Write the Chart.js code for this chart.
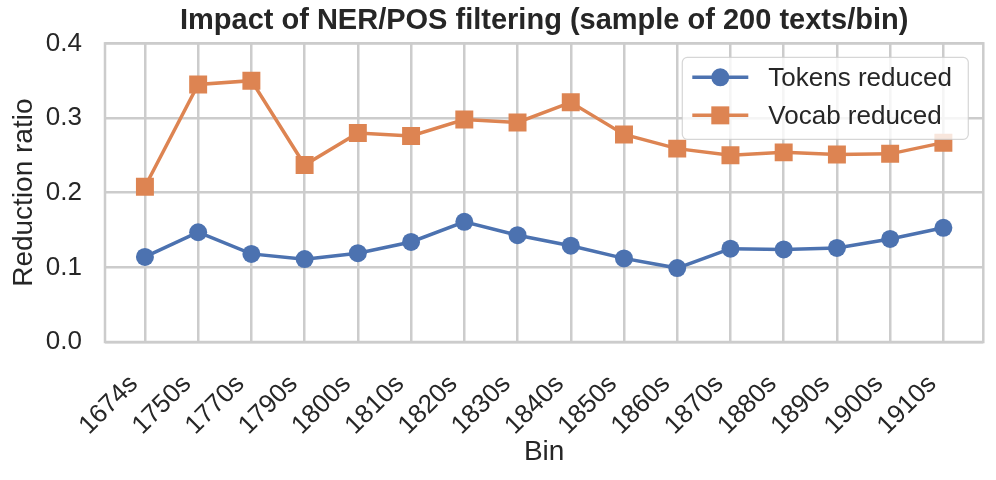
<!DOCTYPE html>
<html>
<head>
<meta charset="utf-8">
<script src="https://cdn.jsdelivr.net/npm/chart.js@4/dist/chart.umd.min.js"></script>
<style>
  html, body { margin: 0; padding: 0; background: #fff; }
  #wrap { width: 996px; height: 480px; }
</style>
</head>
<body>
<div id="wrap"><canvas id="reduction-chart" width="996" height="480"></canvas></div>
<script>
var bins = ['1674s','1750s','1770s','1790s','1800s','1810s','1820s','1830s','1840s','1850s','1860s','1870s','1880s','1890s','1900s','1910s'];
var tokensReduced = [0.114,0.147,0.118,0.111,0.119,0.134,0.161,0.143,0.129,0.112,0.099,0.125,0.124,0.126,0.138,0.153];
var vocabReduced = [0.208,0.345,0.350,0.237,0.280,0.276,0.298,0.294,0.321,0.278,0.259,0.250,0.254,0.251,0.252,0.267];
var yTicks = [0.0, 0.1, 0.2, 0.3, 0.4];

var FONT = "'Liberation Sans', Arial, Helvetica, sans-serif";
var BLUE = '#4c72b0';
var ORANGE = '#dd8452';
var GRID = '#cccccc';

function toPoints(values) {
  return values.map(function (v, i) { return { x: i, y: v }; });
}

// frame round the plot area, like the seaborn whitegrid spines
var framePlugin = {
  id: 'frame',
  beforeDatasetsDraw: function (chart) {
    var a = chart.chartArea, ctx = chart.ctx;
    ctx.save();
    ctx.strokeStyle = GRID;
    ctx.lineWidth = 2.5;
    ctx.strokeRect(a.left, a.top, a.right - a.left, a.bottom - a.top);
    ctx.restore();
  }
};

// legend drawn inside the plot, upper right
var legendPlugin = {
  id: 'innerLegend',
  afterDatasetsDraw: function (chart) {
    var ctx = chart.ctx, a = chart.chartArea;
    var w = 286, h = 82;
    var x0 = a.right - 15 - w, y0 = a.top + 14;
    ctx.save();
    ctx.beginPath();
    if (ctx.roundRect) ctx.roundRect(x0, y0, w, h, 5); else ctx.rect(x0, y0, w, h);
    ctx.fillStyle = 'rgba(255,255,255,0.8)';
    ctx.fill();
    ctx.strokeStyle = 'rgba(204,204,204,0.8)';
    ctx.lineWidth = 1.2;
    ctx.stroke();
    chart.data.datasets.forEach(function (ds, i) {
      var cy = y0 + 20 + i * 38;
      ctx.strokeStyle = ds.borderColor;
      ctx.lineWidth = 3.5;
      ctx.beginPath();
      ctx.moveTo(x0 + 10, cy);
      ctx.lineTo(x0 + 66, cy);
      ctx.stroke();
      ctx.fillStyle = ds.borderColor;
      ctx.beginPath();
      if (ds.pointStyle === 'rect') {
        ctx.rect(x0 + 38 - 9, cy - 9, 18, 18);
      } else {
        ctx.arc(x0 + 38, cy, 9, 0, Math.PI * 2);
      }
      ctx.fill();
      ctx.fillStyle = '#262626';
      ctx.font = '26px ' + FONT;
      ctx.textBaseline = 'middle';
      ctx.fillText(ds.label, x0 + 86, cy + 1);
    });
    ctx.restore();
  }
};

new Chart(document.getElementById('reduction-chart'), {
  type: 'line',
  data: {
    datasets: [
      {
        label: 'Tokens reduced',
        data: toPoints(tokensReduced),
        borderColor: BLUE,
        backgroundColor: BLUE,
        borderWidth: 3.5,
        pointStyle: 'circle',
        pointRadius: 9,
        pointBorderWidth: 0,
        pointHoverRadius: 9
      },
      {
        label: 'Vocab reduced',
        data: toPoints(vocabReduced),
        borderColor: ORANGE,
        backgroundColor: ORANGE,
        borderWidth: 3.5,
        pointStyle: 'rect',
        pointRadius: 12.7,
        pointBorderWidth: 0,
        pointHoverRadius: 12.7
      }
    ]
  },
  options: {
    responsive: false,
    animation: false,
    layout: { padding: { left: 6, right: 11, top: 4, bottom: 4 } },
    plugins: {
      legend: { display: false },
      tooltip: { enabled: false },
      title: {
        display: true,
        fullSize: false,
        text: 'Impact of NER/POS filtering (sample of 200 texts/bin)',
        color: '#262626',
        font: { family: FONT, size: 29, weight: 'bold', lineHeight: 1.15 },
        padding: { top: 0, bottom: 6 }
      }
    },
    scales: {
      x: {
        type: 'linear',
        min: -0.75,
        max: bins.length - 0.25,
        afterBuildTicks: function (axis) {
          axis.ticks = bins.map(function (b, i) { return { value: i }; });
        },
        afterFit: function (axis) { axis.height = 134; },
        ticks: {
          autoSkip: false,
          minRotation: 45,
          maxRotation: 45,
          padding: 27,
          labelOffset: -11,
          color: '#262626',
          font: { family: FONT, size: 26 },
          callback: function (v) { return bins[v]; }
        },
        grid: { color: GRID, lineWidth: 2.5, drawTicks: false },
        border: { display: false },
        title: {
          display: true,
          text: 'Bin',
          color: '#262626',
          font: { family: FONT, size: 28, lineHeight: 1.15 },
          padding: { top: 0, bottom: 8 }
        }
      },
      y: {
        min: 0,
        max: 0.4,
        afterBuildTicks: function (axis) {
          axis.ticks = yTicks.map(function (v) { return { value: v }; });
        },
        afterFit: function (axis) { axis.width = 99; },
        ticks: {
          padding: 23,
          color: '#262626',
          font: { family: FONT, size: 26 },
          callback: function (v) { return v.toFixed(1); }
        },
        grid: { color: GRID, lineWidth: 2.5, drawTicks: false },
        border: { display: false },
        title: {
          display: true,
          text: 'Reduction ratio',
          color: '#262626',
          font: { family: FONT, size: 28, lineHeight: 1.15 },
          padding: { top: 2, bottom: 0 }
        }
      }
    }
  },
  plugins: [framePlugin, legendPlugin]
});
</script>
</body>
</html>
